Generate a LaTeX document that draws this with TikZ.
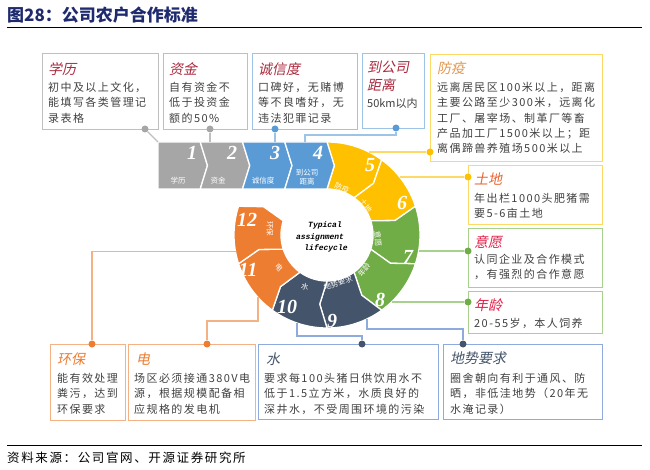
\documentclass[tikz,border=0pt]{standalone}
\usepackage{fontspec}
\setmainfont{Liberation Serif}
\newfontfamily\cjk[LetterSpace=13]{Noto Sans CJK SC}
\newfontfamily\cjkplain{Noto Sans CJK SC}
\newfontfamily\cjkit[FakeSlant=0.2]{Noto Sans CJK SC}
\newfontfamily\monof{Liberation Mono}
\definecolor{cgray}{RGB}{166,166,166}
\definecolor{cgrayl}{RGB}{191,191,191}
\definecolor{cblue}{RGB}{91,155,213}
\definecolor{cbluel}{RGB}{157,195,230}
\definecolor{cyel}{RGB}{255,192,0}
\definecolor{cyell}{RGB}{255,217,102}
\definecolor{cgreen}{RGB}{112,173,71}
\definecolor{cgreenl}{RGB}{169,209,142}
\definecolor{cnavy}{RGB}{68,84,106}
\definecolor{cnavyl}{RGB}{143,170,220}
\definecolor{corg}{RGB}{237,125,49}
\definecolor{corgl}{RGB}{244,177,131}
\definecolor{ctitle}{RGB}{31,43,110}
\definecolor{cbodytxt}{RGB}{64,64,64}
\definecolor{tred}{RGB}{170,40,60}
\definecolor{tyel}{RGB}{228,150,80}
\definecolor{torg}{RGB}{232,100,50}
\definecolor{tcrim}{RGB}{225,30,70}
\begin{document}
\begin{tikzpicture}[x=1pt, y=-1pt,
  cbox/.style={draw, line width=1.1pt, inner sep=0, anchor=north west},
  ttl/.style={anchor=west, inner sep=0, font=\fontsize{14}{18}\selectfont\cjkit},
  btext/.style={anchor=north west, inner sep=0, align=left, text=cbodytxt, font=\fontsize{11}{15.3}\selectfont\cjk},
  cdot/.style={circle, inner sep=0, minimum size=7pt},
  conn/.style={line width=1.1pt},
  seg/.style={draw=white, line width=1.3pt},
  num/.style={text=white, inner sep=0, font=\fontsize{20}{20}\selectfont\bfseries\itshape},
  slab/.style={text=white, inner sep=0, align=center, font=\fontsize{7.5}{9}\selectfont\cjkplain},
  cyc/.style={inner sep=0, font=\fontsize{8}{9}\selectfont\monof\bfseries\itshape}]
\useasboundingbox (0,0) rectangle (650,470);

% header and footer
\node[anchor=west, inner sep=0, text=ctitle, font=\fontsize{17}{20}\selectfont\cjkplain\bfseries] (title) at (7,15) {图28：公司农户合作标准};
\draw[line width=1pt] (7,28) -- (642,28);
\draw[line width=1pt] (7,445) -- (642,445);
\node[anchor=west, inner sep=0, font=\fontsize{12.5}{14}\selectfont\cjk] (src) at (7,458) {资料来源：公司官网、开源证券研究所};

% ring
\begin{scope}[shift={(327,235)}, y=1pt]
\foreach \k/\c in {0/cyel,1/cyel,2/cgreen,3/cgreen,4/cnavy,5/cnavy,6/corg,7/corg}{
  \pgfmathsetmacro\s{90-36*\k}
  \pgfmathsetmacro\e{\s-36}
  \draw[seg, fill=\c] (\s:93pt) arc[start angle=\s, end angle=\e, radius=93pt]
    -- ({\e-6}:69.5pt) -- (\e:46pt) arc[start angle=\e, end angle=\s, radius=46pt]
    -- ({\s-6}:69.5pt) -- cycle;
}
\coordinate (r5) at (63.2:93pt);
\coordinate (r6) at (38.6:93pt);
\coordinate (r7) at (-9.9:93pt);
\coordinate (r8) at (-46:93pt);
\coordinate (r9) at (-64.5:93pt);
\coordinate (r10) at (-108.8:93pt);
\coordinate (r11) at (-137.9:93pt);
\coordinate (r12) at (190.5:93pt);
\end{scope}

% chevron strip
\draw[seg, fill=cgray] (158,142) -- (200.25,142) -- (207.5,165.5) -- (200.25,189) -- (158,189) -- cycle;
\draw[seg, fill=cgray] (200.25,142) -- (242.5,142) -- (249.75,165.5) -- (242.5,189) -- (200.25,189) -- (207.5,165.5) -- cycle;
\draw[seg, fill=cblue] (242.5,142) -- (284.75,142) -- (292,165.5) -- (284.75,189) -- (242.5,189) -- (249.75,165.5) -- cycle;
\draw[seg, fill=cblue] (284.75,142) -- (327,142) -- (334.3,165.5) -- (327,189) -- (284.75,189) -- (292,165.5) -- cycle;
\coordinate (ch1) at (158,142);
\coordinate (ch2) at (210,142);
\coordinate (ch3) at (275,142);
\coordinate (ch4) at (305,142);

% numbers
\node[num] (n1) at (192,153) {1};
\node[num] (n2) at (232,153) {2};
\node[num] (n3) at (275,153) {3};
\node[num] (n4) at (318,153) {4};
\node[num] (n5) at (370,165) {5};
\node[num] (n6) at (402,203) {6};
\node[num] (n7) at (408,257) {7};
\node[num] (n8) at (380,300) {8};
\node[num] (n9) at (332,321) {9};
\node[num] (n10) at (287,307) {10};
\node[num] (n11) at (248,270) {11};
\node[num] (n12) at (247,220) {12};

% segment labels
\node[slab] (l1) at (178,181) {学历};
\node[slab] (l2) at (218,181) {资金};
\node[slab] (l3) at (263,181) {诚信度};
\node[slab] (l4) at (307,177) {到公司\\距离};
\node[slab, rotate=-25] (l5) at (342,188) {防疫};
\node[slab, rotate=-52] (l6) at (366,206) {土地};
\node[slab, rotate=-85] (l7) at (378,239) {意愿};
\node[slab, rotate=55] (l8) at (364,270) {年龄};
\node[slab, rotate=20] (l9) at (338,283) {地势要求};
\node[slab, rotate=-15] (l10) at (305,287) {水};
\node[slab, rotate=-50] (l11) at (279,268) {电};
\node[slab, rotate=-90] (l12) at (270,229) {环保};

\node[cyc] (cy1) at (325,225) {Typical};
\node[cyc] (cy2) at (320,237) {assignment};
\node[cyc] (cy3) at (326,248) {lifecycle};

% boxes
\node[cbox, draw=cgrayl, minimum width=116pt, minimum height=76pt] (b1) at (42,53) {};
\node[cbox, draw=cgrayl, minimum width=84pt, minimum height=76pt] (b2) at (163,53) {};
\node[cbox, draw=cbluel, minimum width=105pt, minimum height=76pt] (b3) at (252,53) {};
\node[cbox, draw=cbluel, minimum width=62pt, minimum height=75pt] (b4) at (362,53) {};
\node[cbox, draw=cyell, minimum width=172pt, minimum height=107pt] (b5) at (430,54) {};
\node[cbox, draw=cyell, minimum width=134pt, minimum height=59pt] (b6) at (468,165) {};
\node[cbox, draw=cgreenl, minimum width=134pt, minimum height=59pt] (b7) at (468,228) {};
\node[cbox, draw=cgreenl, minimum width=134pt, minimum height=42pt] (b8) at (468,291) {};
\node[cbox, draw=cnavyl, minimum width=159pt, minimum height=75pt] (b9) at (443,344) {};
\node[cbox, draw=cnavyl, minimum width=180pt, minimum height=75pt] (b10) at (258,344) {};
\node[cbox, draw=corgl, minimum width=127pt, minimum height=76pt] (b11) at (128,344) {};
\node[cbox, draw=corgl, minimum width=75pt, minimum height=76pt] (b12) at (50,344) {};

% box texts
\node[ttl, text=tred] (t1) at (48,69) {学历};
\node[btext] (x1) at (48,82) {初中及以上文化，\\能填写各类管理记\\录表格};
\node[ttl, text=tred] (t2) at (169,69) {资金};
\node[btext] (x2) at (169,82) {自有资金不\\低于投资金\\额的50\%};
\node[ttl, text=tred] (t3) at (258,69) {诚信度};
\node[btext] (x3) at (258,82) {口碑好，无赌博\\等不良嗜好，无\\违法犯罪记录};
\node[ttl, text=tred, anchor=north west, align=left] (t4) at (367,61) {到公司\\距离};
\node[btext, font=\fontsize{11}{15.3}\selectfont\cjkplain] (x4) at (367,98) {50km以内};
\node[ttl, text=tyel] (t5) at (437,68) {防疫};
\node[btext] (x5) at (437,82) {远离居民区100米以上，距离\\主要公路至少300米，远离化\\工厂、屠宰场、制革厂等畜\\产品加工厂1500米以上；距\\离偶蹄兽养殖场500米以上};
\node[ttl, text=torg] (t6) at (474,179) {土地};
\node[btext] (x6) at (474,193) {年出栏1000头肥猪需\\要5-6亩土地};
\node[ttl, text=tcrim] (t7) at (474,242) {意愿};
\node[btext] (x7) at (474,254) {认同企业及合作模式\\，有强烈的合作意愿};
\node[ttl, text=tcrim] (t8) at (474,305) {年龄};
\node[btext] (x8) at (474,318) {20-55岁，本人饲养};
\node[ttl, text=cnavy] (t9) at (450,358) {地势要求};
\node[btext] (x9) at (450,373) {圈舍朝向有利于通风、防\\晒，非低洼地势（20年无\\水淹记录）};
\node[ttl, text=cnavy] (t10) at (266,359) {水};
\node[btext] (x10) at (264,373) {要求每100头猪日供饮用水不\\低于1.5立方米，水质良好的\\深井水，不受周围环境的污染};
\node[ttl, text=corg] (t11) at (136,359) {电};
\node[btext] (x11) at (134,373) {场区必须接通380V电\\源，根据规模配备相\\应规格的发电机};
\node[ttl, text=corg] (t12) at (57,359) {环保};
\node[btext] (x12) at (57,373) {能有效处理\\粪污，达到\\环保要求};

% dots
\node[cdot, fill=cgray] (d1) at (145,129) {};
\node[cdot, fill=cgray] (d2) at (210,129) {};
\node[cdot, fill=cblue] (d3) at (275,129) {};
\node[cdot, fill=cblue] (d4) at (396,128) {};
\node[cdot, fill=cyel] (d5) at (430,152) {};
\node[cdot, fill=cyel] (d6) at (468,177) {};
\node[cdot, fill=cgreen] (d7) at (468,251) {};
\node[cdot, fill=cgreen] (d8) at (468,302) {};
\node[cdot, fill=cnavy] (d9) at (463,344) {};
\node[cdot, fill=cnavy] (d10) at (362,344) {};
\node[cdot, fill=corg] (d11) at (207,344) {};
\node[cdot, fill=corg] (d12) at (92,344) {};

% connectors
\draw[conn, cgrayl] (d1) -- (ch1);
\draw[conn, cgrayl] (d2) -- (ch2);
\draw[conn, cbluel] (d3) -- (ch3);
\draw[conn, cbluel] (d4) |- ([yshift=7pt]ch4) -- (ch4);
\draw[conn, cyell] (d5) -- (r5 |- d5);
\draw[conn, cyell] (d6) -- (r6 |- d6);
\draw[conn, cgreenl] (d7) -- (r7 |- d7);
\draw[conn, cgreenl] (d8) -- (r8 |- d8);
\draw[conn, cnavyl] (r9) |- ([yshift=15pt]d9.center) -- (d9);
\draw[conn, cnavyl] (r10) |- ([yshift=8pt]d10.center) -- (d10);
\draw[conn, corgl] (r11) |- ([yshift=23pt]d11.center) -- (d11);
\draw[conn, corgl] (r12) -| (d12);
\end{tikzpicture}
\end{document}
